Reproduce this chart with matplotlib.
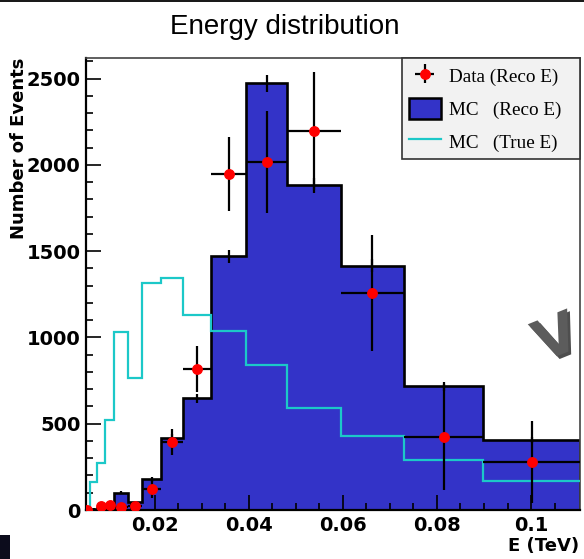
import numpy as np
import matplotlib
matplotlib.use('Agg')
import matplotlib.pyplot as plt
from matplotlib.patches import Patch, Rectangle
from matplotlib.lines import Line2D
import matplotlib.patheffects as pe

# log-spaced energy bins (TeV)
bin_edges = [0.0051, 0.0063, 0.0077, 0.0094, 0.0114, 0.0144, 0.0174, 0.0213,
             0.0261, 0.0320, 0.0394, 0.0482, 0.0595, 0.0730, 0.0898, 0.1104]

mc_reco = [0, 8, 10, 12, 100, 48, 178, 420, 648, 1470, 2474, 1881, 1416, 716, 406]
mc_reco_err = [0, 3, 3, 3, 10, 7, 13, 20, 25, 38, 50, 43, 38, 27, 20]

mc_true = [0, 164, 270, 522, 1031, 764, 1317, 1346, 1132, 1039, 842, 590, 431, 290, 168]

data_reco = [0, np.nan, 23, 29, 19, 23, 120, 393, 817, 1948, 2016, 2196, 1258, 425, 277]
data_err = [0, 0, 4, 5, 4, 5, 50, 74, 133, 215, 296, 341, 336, 308, 238]

x_ticks = [0.02, 0.04, 0.06, 0.08, 0.1]
x_ticklabels = ['0.02', '0.04', '0.06', '0.08', '0.1']
y_ticks = [0, 500, 1000, 1500, 2000, 2500]

edges = np.array(bin_edges)
centers = 0.5 * (edges[:-1] + edges[1:])
half_w = 0.5 * (edges[1:] - edges[:-1])

fig = plt.figure(figsize=(5.84, 5.59), dpi=100)
ax = fig.add_axes([86 / 584, 1 - 510 / 559, 494 / 584, 452 / 559])

blue = '#3333c8'
cyan = '#1cc8c8'

ax.stairs(mc_reco, edges, fill=True, color=blue, zorder=1)
ax.stairs(mc_reco, edges, color='black', linewidth=1.9, zorder=2)
ax.errorbar(centers, mc_reco, yerr=mc_reco_err, fmt='none', ecolor='black',
            elinewidth=1.6, capsize=0, zorder=2)
ax.stairs(mc_true, edges, color=cyan, linewidth=1.6, baseline=None, zorder=3)
data_h = ax.errorbar(centers, data_reco, xerr=half_w, yerr=data_err, fmt='o',
                     color='red', markersize=6.8, ecolor='black', elinewidth=1.6,
                     capsize=0, zorder=4)

ax.set_xlim(0.0054, 0.1104)
ax.set_ylim(0, 2620)

ax.set_xticks(x_ticks)
ax.set_xticklabels(x_ticklabels)
ax.set_xticks(np.arange(0.01, 0.11, 0.005), minor=True)
ax.set_yticks(y_ticks)
ax.set_yticks(np.arange(0, 2700, 100), minor=True)
ax.tick_params(which='both', direction='in', top=False, right=False, width=1.2)
ax.tick_params(which='major', length=10.5, pad=4)
ax.tick_params(which='minor', length=5)
for lab in ax.get_xticklabels() + ax.get_yticklabels():
    lab.set_fontweight('bold')
    lab.set_fontsize(14)
    lab.set_family('DejaVu Sans')

for side in ['left', 'bottom']:
    ax.spines[side].set_linewidth(1.6)
    ax.spines[side].set_color('black')
for side in ['top', 'right']:
    ax.spines[side].set_linewidth(1.2)
    ax.spines[side].set_color('#444444')

handles = [data_h,
           Patch(facecolor=blue, edgecolor='black', linewidth=1.8),
           Line2D([], [], color=cyan, linewidth=1.6)]
labels = ['Data (Reco E)', 'MC   (Reco E)', 'MC   (True E)']
leg = ax.legend(handles, labels, loc='upper left', mode='expand',
                bbox_to_anchor=(315.7 / 494, 0, 178.3 / 494, 1), borderaxespad=0,
                prop={'family': 'Liberation Serif', 'size': 13.8}, fancybox=False,
                edgecolor='#333333', facecolor='#f2f2f2', framealpha=1,
                handlelength=1.65, handleheight=1.3, handletextpad=0.45,
                labelspacing=0.62, borderpad=0.38)
leg.get_frame().set_linewidth(1.2)
leg.set_zorder(10)

fig.text(19 / 584, 1 - 58 / 559, 'Number of Events', rotation=90, ha='center',
         va='top', fontsize=13, fontweight='bold', family='DejaVu Sans')
fig.text(579 / 584, 1 - 537 / 559, 'E (TeV)', ha='right', va='top',
         fontsize=13, fontweight='bold', family='DejaVu Sans')

fig.text(285 / 584, 1 - 33.5 / 559, 'Energy distribution', ha='center',
         va='baseline', fontsize=20, family='Liberation Sans')

# slide decorations around the plot
fig.text(557 / 584, 1 - 340 / 559, 'V', ha='center', va='center', rotation=22,
         fontsize=40, fontweight='bold', color='#5c5c5c', family='DejaVu Sans',
         path_effects=[pe.SimplePatchShadow(offset=(2, -2), shadow_rgbFace='#222222', alpha=0.8),
                       pe.Normal()],
         zorder=20)
fig.patches.append(Rectangle((0, 1 - 2 / 559), 1, 2 / 559, transform=fig.transFigure,
                             facecolor='#1a1a1a', edgecolor='none'))
fig.patches.append(Rectangle((0, 0), 10 / 584, 24 / 559, transform=fig.transFigure,
                             facecolor='#0c0c1c', edgecolor='none'))

fig.savefig('out.png', dpi=100)
